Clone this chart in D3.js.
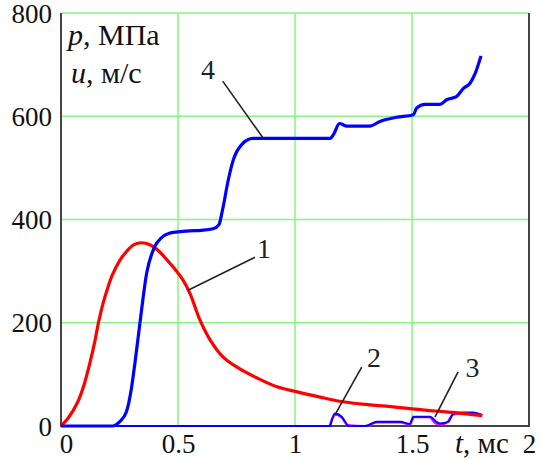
<!DOCTYPE html>
<html>
<head>
<meta charset="utf-8">
<script src="https://cdn.jsdelivr.net/npm/d3@7"></script>
<style>
  body { margin: 0; background: #fff; }
  svg { display: block; font-family: "Liberation Serif", "Times New Roman", serif; }
</style>
</head>
<body>
<svg id="chart" width="541" height="459"></svg>
<script>
// curve 1: pressure p, MPa
var pT = [0, 0.03, 0.07, 0.10, 0.125, 0.145, 0.16, 0.18, 0.20, 0.22, 0.25, 0.28, 0.31, 0.345, 0.38, 0.42, 0.46, 0.49, 0.521, 0.551, 0.594, 0.637, 0.692, 0.752, 0.838, 0.923, 1.009, 1.107, 1.205, 1.32, 1.42, 1.5, 1.6, 1.7, 1.8];
var pV = [0, 15, 45, 82, 125, 165, 200, 238, 268, 293, 320, 338, 351, 355, 351, 338, 318, 302, 283, 257, 205, 167, 134, 114, 93, 76, 66, 56, 47, 41, 37, 33, 29, 25, 20];

// curve 4: velocity u, m/s
var uT = [0, 0.22, 0.25, 0.28, 0.30, 0.316, 0.338, 0.366, 0.40, 0.43, 0.46, 0.50, 0.55, 0.60, 0.65, 0.675, 0.69, 0.715, 0.736, 0.772, 0.82, 0.87, 1.0, 1.15, 1.165, 1.19, 1.22, 1.32, 1.363, 1.434, 1.506, 1.52, 1.556, 1.62, 1.648, 1.69, 1.72, 1.748, 1.77, 1.795];
var uV = [0, 0, 8, 28, 70, 122, 202, 296, 347, 365, 373, 376, 378, 379, 382, 390, 418, 477, 515, 545, 557, 557, 557, 557, 565, 586, 581, 581, 590, 598, 603, 616, 623, 623, 632, 638, 654, 664, 683, 717];

// curve 2 (magenta)
var c2T = [0, 1.145, 1.16, 1.175, 1.20, 1.225, 1.30, 1.35, 1.45, 1.49, 1.51, 1.575, 1.60, 1.625, 1.65, 1.675, 1.72, 1.76, 1.80];
var c2V = [0, 0, 16, 22, 16, 2, 0, 7, 7, 3, 17, 17, 5, 3, 7, 22, 25, 25, 21];

// curve 3 (blue)
var c3T = [0, 1.15, 1.157, 1.17, 1.20, 1.23, 1.30, 1.35, 1.45, 1.49, 1.506, 1.577, 1.605, 1.62, 1.655, 1.677, 1.72, 1.76, 1.80];
var c3V = [0, 0, 10, 24, 18, 0, 0, 8, 8, 4, 18, 18, 8, 5, 8, 24, 26, 26, 21];

var xTicks = [0, 0.5, 1, 1.5, 2];
var xTickLabels = ['0', '0.5', '1', '1.5', '2'];
var yTicks = [0, 200, 400, 600, 800];

// curve labels: text position and leader line, in data units
var labels = [
  { text: '4', t: 0.628, v: 672, t1: 0.691, v1: 668, t2: 0.865, v2: 557 },
  { text: '1', t: 0.868, v: 325, t1: 0.829, v1: 327, t2: 0.543, v2: 263 },
  { text: '2', t: 1.338, v: 114, t1: 1.285, v1: 114, t2: 1.175, v2: 25 },
  { text: '3', t: 1.759, v: 95, t1: 1.697, v1: 105, t2: 1.598, v2: 17 }
];

var svg = d3.select('#chart');
var plot = { left: 61, right: 529, top: 13, bottom: 426 };

var x = d3.scaleLinear().domain([0, 2]).range([plot.left, plot.right]);
var y = d3.scaleLinear().domain([0, 800]).range([plot.bottom, plot.top]);

function zip(ts, vs) {
  return ts.map(function(t, i) { return [t, vs[i]]; });
}

// grid
var gridColor = '#85f585';
svg.append('g').selectAll('line').data(xTicks.slice(1, -1)).enter().append('line')
  .attr('x1', d => x(d)).attr('x2', d => x(d))
  .attr('y1', plot.top).attr('y2', plot.bottom)
  .attr('stroke', gridColor).attr('stroke-width', 1.5);
svg.append('g').selectAll('line').data(yTicks.slice(1)).enter().append('line')
  .attr('x1', plot.left).attr('x2', plot.right)
  .attr('y1', d => y(d)).attr('y2', d => y(d))
  .attr('stroke', gridColor).attr('stroke-width', 1.5);

// frame (left, bottom, right)
svg.append('path')
  .attr('d', 'M' + plot.left + ',' + plot.top + 'V' + plot.bottom + 'H' + plot.right + 'V' + plot.top)
  .attr('fill', 'none').attr('stroke', '#444').attr('stroke-width', 2);

// axes tick labels
var xAxis = svg.append('g').attr('transform', 'translate(0,' + plot.bottom + ')')
  .call(d3.axisBottom(x).tickValues(xTicks).tickSize(0).tickFormat((d, i) => xTickLabels[i]));
xAxis.select('.domain').remove();
xAxis.selectAll('text')
  .attr('y', 27).attr('dy', 0)
  .attr('font-size', 27).attr('font-family', '"Liberation Serif", serif').attr('fill', '#111')
  .attr('dx', (d, i) => i === 0 ? 5 : 0);

var yAxis = svg.append('g').attr('transform', 'translate(' + plot.left + ',0)')
  .call(d3.axisLeft(y).tickValues(yTicks).tickSize(0));
yAxis.select('.domain').remove();
yAxis.selectAll('text')
  .attr('x', -9).attr('dy', '0.34em')
  .attr('font-size', 27).attr('font-family', '"Liberation Serif", serif').attr('fill', '#111');

// axis titles
var t1 = svg.append('text').attr('x', 68).attr('y', 45).attr('font-size', 30).attr('fill', '#111');
t1.append('tspan').attr('font-style', 'italic').text('p');
t1.append('tspan').text(', МПа');
var t2 = svg.append('text').attr('x', 71).attr('y', 83).attr('font-size', 30).attr('fill', '#111');
t2.append('tspan').attr('font-style', 'italic').text('u');
t2.append('tspan').text(', м/с');
var t3 = svg.append('text').attr('x', 455).attr('y', 453).attr('font-size', 29).attr('fill', '#111');
t3.append('tspan').attr('font-style', 'italic').text('t');
t3.append('tspan').text(', мс');

// curves
var line = d3.line().x(d => x(d[0])).y(d => y(d[1])).curve(d3.curveMonotoneX);
var smooth = d3.line().x(d => x(d[0])).y(d => y(d[1])).curve(d3.curveCatmullRom.alpha(0.5));

svg.append('path').datum(zip(c2T, c2V)).attr('d', line)
  .attr('fill', 'none').attr('stroke', '#ff00ff').attr('stroke-width', 2.2);
svg.append('path').datum(zip(c3T, c3V)).attr('d', line)
  .attr('fill', 'none').attr('stroke', '#0000ff').attr('stroke-width', 2);
svg.append('path').datum(zip(pT, pV)).attr('d', smooth)
  .attr('fill', 'none').attr('stroke', '#ff0000').attr('stroke-width', 3.2)
  .attr('stroke-linejoin', 'round');
svg.append('path').datum(zip(uT, uV)).attr('d', line)
  .attr('fill', 'none').attr('stroke', '#0000ff').attr('stroke-width', 3.2)
  .attr('stroke-linejoin', 'round');

// curve labels with leaders
var lab = svg.append('g').selectAll('g').data(labels).enter().append('g');
lab.append('line')
  .attr('x1', d => x(d.t1)).attr('y1', d => y(d.v1))
  .attr('x2', d => x(d.t2)).attr('y2', d => y(d.v2))
  .attr('stroke', '#222').attr('stroke-width', 1.6);
lab.append('text')
  .attr('x', d => x(d.t)).attr('y', d => y(d.v))
  .attr('text-anchor', 'middle').attr('font-size', 28).attr('fill', '#222')
  .text(d => d.text);
</script>
</body>
</html>
